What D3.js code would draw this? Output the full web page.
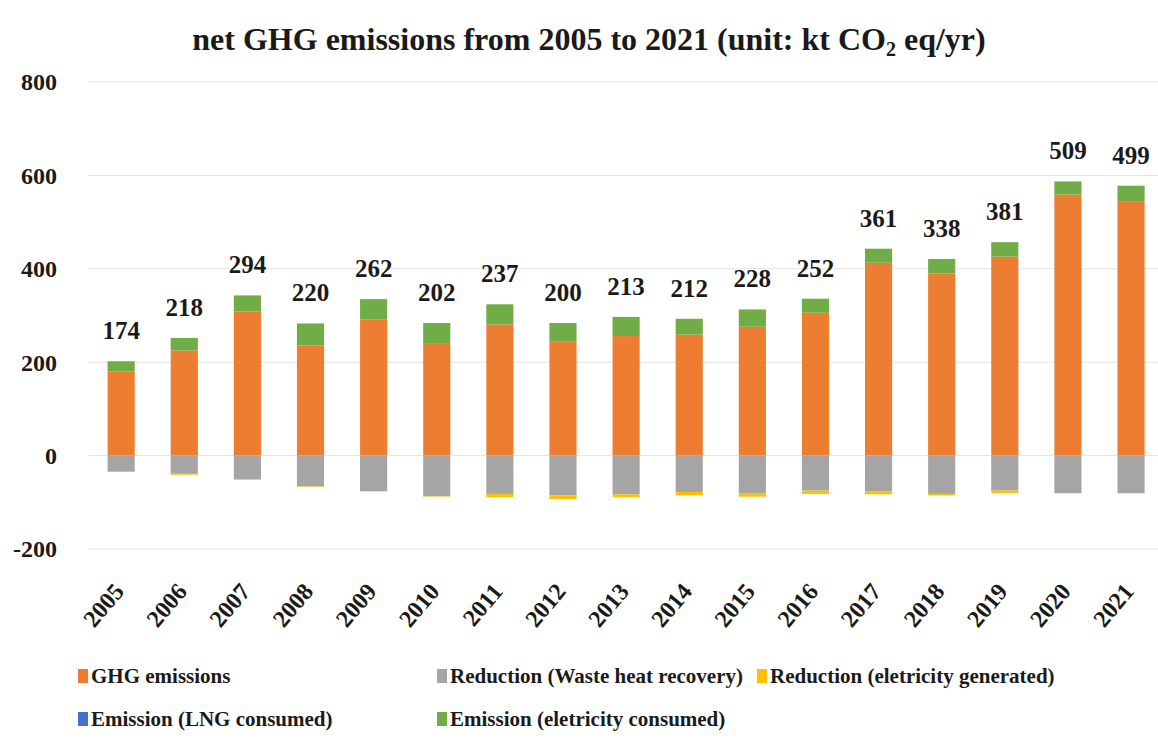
<!DOCTYPE html>
<html>
<head>
<meta charset="utf-8">
<script src="https://cdn.jsdelivr.net/npm/d3@7"></script>
<style>
  body { margin: 0; background: #fff; }
</style>
</head>
<body>
<div id="chart"></div>
<script>
// values (kt CO2 eq/yr)
var years = ['2005','2006','2007','2008','2009','2010','2011','2012','2013','2014','2015','2016','2017','2018','2019','2020','2021'];
var ghgEmissions   = [180, 225, 309, 236, 291, 241, 281, 245, 256, 259, 276, 306, 413, 390, 426, 559, 545];
var redWasteHeat   = [-33, -39, -51, -66, -76, -87, -82, -85, -83, -78, -80, -75, -77, -82, -75, -80, -80];
var redElecGen     = [-2, -2, -1, -1, -1, -1, -7, -8, -6, -7, -8, -7, -6, -3, -5, -1, -1];
var emLNG          = [0, 0, 0, 0, 0, 0, 0, 0, 0, 0, 0, 0, 0, 0, 0, 0, 0];
var emElecConsumed = [22, 27, 34, 47, 44, 43, 43, 39, 41, 34, 37, 30, 30, 31, 31, 28, 33];
var netLabels      = [174, 218, 294, 220, 262, 202, 237, 200, 213, 212, 228, 252, 361, 338, 381, 509, 499];
var yTicks = [-200, 0, 200, 400, 600, 800];

var keys = ['ghg', 'waste', 'elecGen', 'lng', 'elecUse'];
var names = {
  ghg: 'GHG emissions',
  waste: 'Reduction (Waste heat recovery)',
  elecGen: 'Reduction (eletricity generated)',
  lng: 'Emission (LNG consumed)',
  elecUse: 'Emission (eletricity consumed)'
};
var colors = { ghg: '#ED7D31', waste: '#A5A5A5', elecGen: '#FFC000', lng: '#4472C4', elecUse: '#70AD47' };

var rows = years.map(function(y, i) {
  return { year: y, ghg: ghgEmissions[i], waste: redWasteHeat[i], elecGen: redElecGen[i],
           lng: emLNG[i], elecUse: emElecConsumed[i], net: netLabels[i] };
});

var W = 1158, H = 738;
var svg = d3.select('#chart').append('svg')
  .attr('width', W).attr('height', H)
  .attr('font-family', "'Liberation Serif', serif")
  .attr('font-weight', 'bold')
  .attr('fill', '#1a1a1a');

var x = d3.scaleBand().domain(years).range([89.6, 1162.6]).paddingInner(0.57).paddingOuter(0.285);
var y = d3.scaleLinear().domain([-200, 800]).range([549, 82]);

// title
var title = svg.append('text')
  .attr('x', 589).attr('y', 50)
  .attr('text-anchor', 'middle')
  .attr('font-size', 32);
title.append('tspan').text('net GHG emissions from 2005 to 2021 (unit: kt CO');
title.append('tspan').text('2').attr('font-size', 20).attr('dy', 6);
title.append('tspan').text(' eq/yr)').attr('dy', -6);

// gridlines + y labels
svg.append('g').selectAll('line').data(yTicks).join('line')
  .attr('x1', 88).attr('x2', W)
  .attr('y1', function(d) { return y(d); }).attr('y2', function(d) { return y(d); })
  .attr('stroke', '#e3e3e3').attr('stroke-width', 1);

svg.append('g').selectAll('text').data(yTicks).join('text')
  .attr('x', 57).attr('y', function(d) { return y(d); })
  .attr('dy', '0.35em').attr('text-anchor', 'end')
  .attr('font-size', 24)
  .text(function(d) { return d; });

// stacked bars
var series = d3.stack().keys(keys).offset(d3.stackOffsetDiverging)(rows);

svg.append('g').selectAll('g').data(series).join('g')
  .attr('fill', function(s) { return colors[s.key]; })
  .selectAll('rect').data(function(s) { return s; }).join('rect')
  .attr('x', function(d) { return x(d.data.year); })
  .attr('width', x.bandwidth())
  .attr('y', function(d) { return y(Math.max(d[0], d[1])); })
  .attr('height', function(d) { return Math.abs(y(d[0]) - y(d[1])); });

// net value labels over each bar
svg.append('g').selectAll('text').data(rows).join('text')
  .attr('x', function(d) { return x(d.year) + x.bandwidth() / 2; })
  .attr('y', function(d) { return y(d.ghg + d.lng + d.elecUse) - 22; })
  .attr('text-anchor', 'middle')
  .attr('font-size', 25)
  .text(function(d) { return d.net; });

// x labels, slanted
svg.append('g').selectAll('text').data(years).join('text')
  .attr('transform', function(d) {
    return 'translate(' + (x(d) + x.bandwidth() / 2 + 4) + ',592) rotate(-50)';
  })
  .attr('text-anchor', 'end')
  .attr('font-size', 24)
  .text(function(d) { return d; });

// legend
var legendPos = [
  { key: 'ghg', x: 78, y: 676 },
  { key: 'waste', x: 437, y: 676 },
  { key: 'elecGen', x: 757, y: 676 },
  { key: 'lng', x: 78, y: 719 },
  { key: 'elecUse', x: 437, y: 719 }
];
var lg = svg.append('g').selectAll('g').data(legendPos).join('g')
  .attr('transform', function(d) { return 'translate(' + d.x + ',' + d.y + ')'; });
lg.append('rect').attr('x', 0).attr('y', -7).attr('width', 10).attr('height', 14)
  .attr('fill', function(d) { return colors[d.key]; });
lg.append('text').attr('x', 13).attr('dy', '0.35em')
  .attr('font-size', 21)
  .text(function(d) { return names[d.key]; });
</script>
</body>
</html>
